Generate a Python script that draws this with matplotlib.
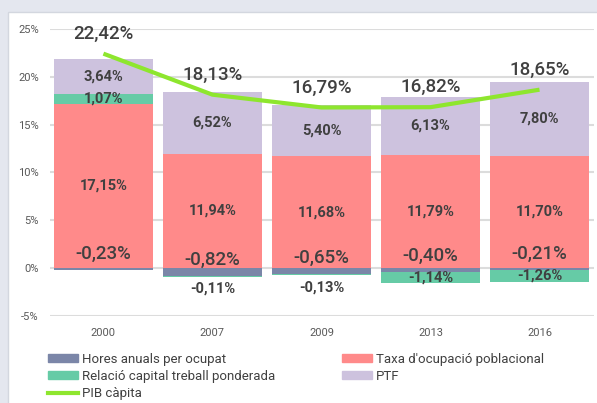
import matplotlib.pyplot as plt
from matplotlib.patches import Rectangle, Patch
from matplotlib.lines import Line2D

anys = ["2000", "2007", "2009", "2013", "2016"]
hores = [-0.23, -0.82, -0.65, -0.40, -0.21]
relacio = [1.07, -0.11, -0.13, -1.14, -1.26]
taxa = [17.15, 11.94, 11.68, 11.79, 11.70]
ptf = [3.64, 6.52, 5.40, 6.13, 7.80]
pib = [22.42, 18.13, 16.79, 16.82, 18.65]

y_ticks = [-5, 0, 5, 10, 15, 20, 25]

noms = ["Hores anuals per ocupat", "Relació capital treball ponderada",
        "PIB càpita", "Taxa d'ocupació poblacional", "PTF"]

c_hores = "#7b86a8"
c_rel = "#66cba6"
c_taxa = "#ff8a8a"
c_ptf = "#cdc2de"
c_pib = "#8ee62e"
c_txt = "#404040"

plt.rcParams['font.family'] = ['Roboto', 'DejaVu Sans']


def pct(v):
    return f"{v:.2f}".replace('.', ',') + '%'


def main():
    fig = plt.figure(figsize=(5.97, 4.03), dpi=100)
    fig.patch.set_facecolor("#e4e7ef")
    # panell blanc
    fig.patches.append(Rectangle((8 / 597, -0.01), 1.0, 1 - 12 / 403 + 0.01,
                                 transform=fig.transFigure, facecolor="white",
                                 edgecolor="#d3d7df", linewidth=1, zorder=-10))

    ax = fig.add_axes([50 / 597, 1 - 315.7 / 403, 544 / 597, (315.7 - 29) / 403])
    ax.set_facecolor("none")
    x = list(range(len(anys)))
    w = 0.915

    # parts positives i negatives apilades
    base_pos = [0.0] * len(x)
    base_neg = [0.0] * len(x)
    ax.bar(x, taxa, w, bottom=base_pos, color=c_taxa, zorder=2)
    base_pos = [b + t for b, t in zip(base_pos, taxa)]
    ax.bar(x, hores, w, bottom=base_neg, color=c_hores, zorder=2)
    base_neg = [b + h for b, h in zip(base_neg, hores)]
    rel_bot = [bp if r > 0 else bn for r, bp, bn in zip(relacio, base_pos, base_neg)]
    ax.bar(x, relacio, w, bottom=rel_bot, color=c_rel, zorder=2)
    base_pos = [bp + max(r, 0) for bp, r in zip(base_pos, relacio)]
    ax.bar(x, ptf, w, bottom=base_pos, color=c_ptf, zorder=2)

    ax.plot(x, pib, color=c_pib, lw=3, zorder=3, solid_capstyle='butt')

    # etiquetes
    for i in x:
        ax.text(i, taxa[i] / 2, pct(taxa[i]), ha='center', va='center',
                fontsize=10.5, fontweight='bold', color=c_txt, zorder=4)
        ax.text(i, base_pos[i] + ptf[i] / 2, pct(ptf[i]), ha='center', va='center',
                fontsize=10.5, fontweight='bold', color=c_txt, zorder=4)
        if relacio[i] > 0 or abs(relacio[i]) > 0.5:
            ax.text(i, rel_bot[i] + relacio[i] / 2, pct(relacio[i]), ha='center',
                    va='center', fontsize=10.5, fontweight='bold', color=c_txt, zorder=4)
        else:
            ax.annotate(pct(relacio[i]), (i, rel_bot[i] + relacio[i]),
                        xytext=(0, -8.5), textcoords='offset points', ha='center',
                        va='center', fontsize=10.5, fontweight='bold', color=c_txt, zorder=4)
        ax.annotate(pct(hores[i]), (i, hores[i]), xytext=(0, 11.5),
                    textcoords='offset points', ha='center', va='center',
                    fontsize=13.5, fontweight='medium', color=c_txt, zorder=4)
        ax.annotate(pct(pib[i]), (i, pib[i]), xytext=(0, 14.4),
                    textcoords='offset points', ha='center', va='center',
                    fontsize=13.5, fontweight='medium', color=c_txt, zorder=4)

    ax.set_xlim(-0.49, 4.5)
    ax.set_ylim(-5, 25)
    ax.set_yticks(y_ticks)
    ax.set_yticklabels([f"{t}%" for t in y_ticks])
    ax.set_xticks(x)
    ax.set_xticklabels(anys)
    ax.grid(axis='y', color="#dcdcdc", linewidth=1.5, zorder=0)
    ax.set_axisbelow(True)
    for s in ax.spines.values():
        s.set_visible(False)
    ax.tick_params(length=0, labelsize=8, labelcolor="#595959")
    ax.tick_params(axis='y', pad=8)
    ax.tick_params(axis='x', pad=9)

    h1 = [Patch(color=c_hores), Patch(color=c_rel), Line2D([], [], color=c_pib, lw=3)]
    h2 = [Patch(color=c_taxa), Patch(color=c_ptf)]
    opts = dict(loc='upper left', frameon=False, borderpad=0, borderaxespad=0,
                fontsize=9.5, handlelength=2.3, handleheight=0.55, handletextpad=0.3,
                labelspacing=0.31, labelcolor=c_txt)
    fig.legend(h1, noms[:3], bbox_to_anchor=(48 / 597, 1 - 353 / 403), **opts)
    fig.legend(h2, noms[3:], bbox_to_anchor=(341.7 / 597, 1 - 353 / 403), **opts)

    fig.savefig("out.png", dpi=100, facecolor=fig.get_facecolor())
    return


if __name__ == "__main__":
    main()
